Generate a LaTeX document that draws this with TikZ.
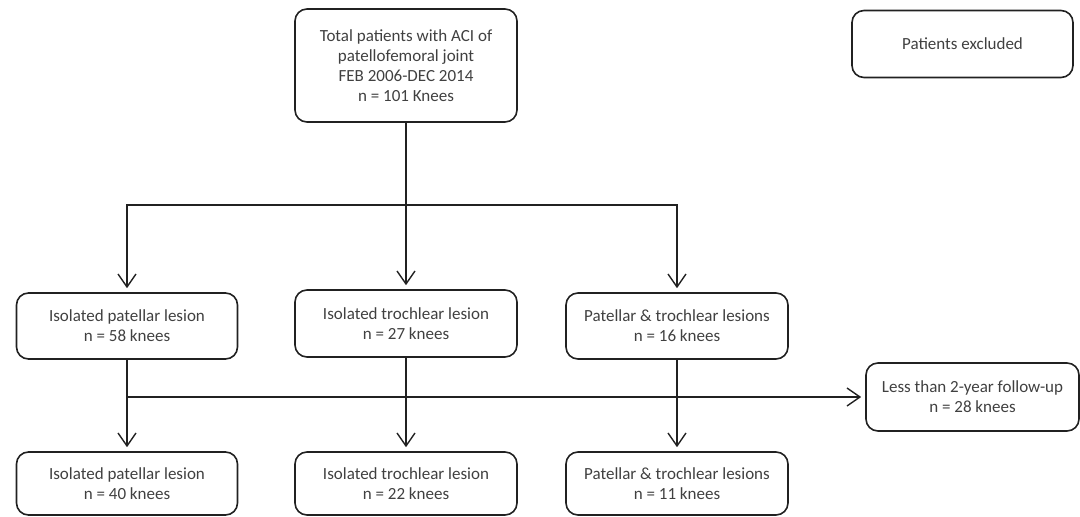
\documentclass[tikz,border=0pt]{standalone}
\usepackage{fontspec}
\setmainfont{Carlito}
\usepackage{tikz}
\usetikzlibrary{arrows.meta}
\usetikzlibrary{positioning}
\definecolor{txtgray}{rgb}{0.25, 0.25, 0.25}
\definecolor{linegray}{rgb}{0.13, 0.13, 0.13}

\begin{document}
\begin{tikzpicture}[x=1pt, y=-1pt,
    flowbox/.style={draw=linegray, line width=1.6pt, rounded corners=12pt,
      align=center, text=txtgray, inner sep=2pt,
      font=\fontsize{17}{20}\selectfont},
    arr/.style={-{Straight Barb[length=13pt, width=18pt]}, line width=1.4pt,
      draw=linegray, shorten >=4pt},
    link/.style={line width=1.4pt, draw=linegray}]

      \useasboundingbox (0, 0) rectangle (1080, 517);

      % top and side boxes
      \node [flowbox, minimum width=222pt, minimum height=113pt] (total) at (406, 65.5)
        {Total patients with ACI of\\patellofemoral joint\\FEB 2006-DEC 2014\\n = 101 Knees};
      \node [flowbox, minimum width=221pt, minimum height=67pt] (excl) at (962.5, 44)
        {Patients excluded};

      % first row
      \node [flowbox, minimum width=221pt, minimum height=66pt] (pat1) at (127, 326)
        {Isolated patellar lesion\\n = 58 knees};
      \node [flowbox, minimum width=222pt, minimum height=67pt] (tro1) at (406, 323.5)
        {Isolated trochlear lesion\\n = 27 knees};
      \node [flowbox, minimum width=222pt, minimum height=66pt] (both1) at (677, 326)
        {Patellar \& trochlear lesions\\n = 16 knees};

      % second row
      \node [flowbox, minimum width=221pt, minimum height=63pt] (pat2) at (127, 483.5)
        {Isolated patellar lesion\\n = 40 knees};
      \node [flowbox, minimum width=222pt, minimum height=63pt] (tro2) at (406, 483.5)
        {Isolated trochlear lesion\\n = 22 knees};
      \node [flowbox, minimum width=222pt, minimum height=63pt] (both2) at (677, 483.5)
        {Patellar \& trochlear lesions\\n = 11 knees};

      \node [flowbox, minimum width=213pt, minimum height=68pt] (follow) at (972.5, 397)
        {Less than 2-year follow-up\\n = 28 knees};

      % connectors
      \coordinate (split) at (406, 205);
      \coordinate (branch) at (pat1.south |- follow.west);
      \draw [link] (total.south) -- (split);
      \draw [arr] (split) -| (pat1.north);
      \draw [arr] (split) -- (tro1.north);
      \draw [arr] (split) -| (both1.north);

      \draw [arr] (pat1.south) -- (pat2.north);
      \draw [arr] (tro1.south) -- (tro2.north);
      \draw [arr] (both1.south) -- (both2.north);
      \draw [arr] (branch) -- (follow.west);
    \end{tikzpicture}
\end{document}
